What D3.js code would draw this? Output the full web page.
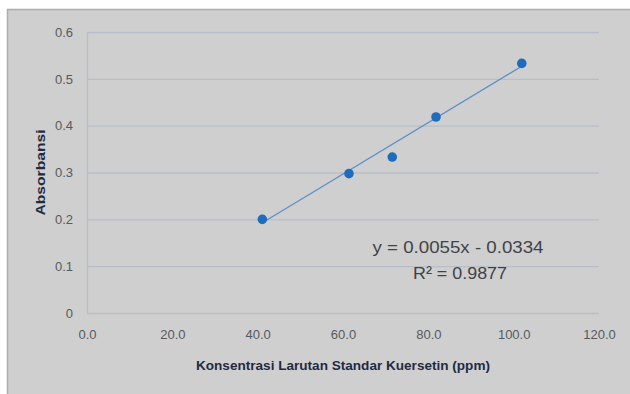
<!DOCTYPE html>
<html><head><meta charset="utf-8">
<script src="https://cdn.jsdelivr.net/npm/d3@7"></script>
<style>
html,body{margin:0;padding:0;background:#fff;}
svg{display:block;}
</style></head>
<body>
<svg id="c" width="630" height="394"></svg>
<script>
// Data
const concentration = [41.1, 61.4, 71.55, 81.8, 101.9];
const absorbance = [0.200, 0.2975, 0.333, 0.4185, 0.533];
const xTicks = [0, 20, 40, 60, 80, 100, 120];
const xTickLabels = ["0.0", "20.0", "40.0", "60.0", "80.0", "100.0", "120.0"];
const yTicks = [0, 0.1, 0.2, 0.3, 0.4, 0.5, 0.6];
const yTickLabels = ["0", "0.1", "0.2", "0.3", "0.4", "0.5", "0.6"];
const trendSlope = [0.0055];
const trendIntercept = [-0.0334];
const equationLines = ["y = 0.0055x - 0.0334", "R² = 0.9877"];
const xTitle = "Konsentrasi Larutan Standar Kuersetin (ppm)";
const yTitle = "Absorbansi";

const svg = d3.select("#c");
const W = 630, H = 394;
const m = {left: 87, right: 31, top: 32, bottom: 81};
const pw = W - m.left - m.right, ph = H - m.top - m.bottom;

// chart frame
svg.append("rect").attr("x", 7.5).attr("y", 9.5).attr("width", W).attr("height", H)
  .attr("fill", "#cfcfcf").attr("stroke", "#a9adb5").attr("stroke-width", 1.5);

const x = d3.scaleLinear().domain([0, 120]).range([m.left, m.left + pw]);
const y = d3.scaleLinear().domain([0, 0.6]).range([m.top + ph, m.top]);

const g = svg.append("g");

// Y axis with gridlines
const yAxis = d3.axisLeft(y).tickValues(yTicks)
  .tickFormat((d, i) => yTickLabels[i]).tickSizeInner(-pw).tickSizeOuter(0).tickPadding(14);
const ya = g.append("g").attr("transform", `translate(${m.left},0)`).call(yAxis);
ya.selectAll(".tick line").attr("stroke", "#b8bec8").attr("stroke-width", 1.3);
ya.select(".domain").attr("stroke", "#b8bec8").attr("stroke-width", 1.3);
ya.selectAll(".tick text").attr("fill", "#555a60").attr("font-size", 13)
  .attr("font-family", "'Liberation Sans Narrow','Liberation Sans',Arial,sans-serif");

// X axis labels
const xAxis = d3.axisBottom(x).tickValues(xTicks)
  .tickFormat((d, i) => xTickLabels[i]).tickSize(0).tickPadding(17);
const xa = g.append("g").attr("transform", `translate(0,${m.top + ph})`).call(xAxis);
xa.select(".domain").remove();
xa.selectAll(".tick text").attr("fill", "#555a60").attr("font-size", 13)
  .attr("font-family", "'Liberation Sans Narrow','Liberation Sans',Arial,sans-serif");

// trendline
const x0 = d3.min(concentration), x1 = d3.max(concentration);
g.append("line")
  .attr("x1", x(x0)).attr("y1", y(trendSlope[0] * x0 + trendIntercept[0]))
  .attr("x2", x(x1)).attr("y2", y(trendSlope[0] * x1 + trendIntercept[0]))
  .attr("stroke", "#5a8ec8").attr("stroke-width", 1.2);

// points
g.selectAll("circle.pt").data(concentration).join("circle").attr("class", "pt")
  .attr("cx", d => x(d)).attr("cy", (d, i) => y(absorbance[i])).attr("r", 4.8)
  .attr("fill", "#1f6cbd");

// equation
const eq = g.append("g");
eq.append("text").attr("x", 458).attr("y", 253).attr("text-anchor", "middle")
  .attr("font-family", "'Liberation Sans Narrow','Liberation Sans',Arial,sans-serif")
  .attr("font-size", 17).attr("fill", "#404346")
  .attr("textLength", 171).attr("lengthAdjust", "spacingAndGlyphs").text(equationLines[0]);
eq.append("text").attr("x", 460).attr("y", 279).attr("text-anchor", "middle")
  .attr("font-family", "'Liberation Sans Narrow','Liberation Sans',Arial,sans-serif")
  .attr("font-size", 17).attr("fill", "#404346")
  .attr("textLength", 94).attr("lengthAdjust", "spacingAndGlyphs").text(equationLines[1]);

// axis titles
g.append("text").attr("x", x(60)).attr("y", 370).attr("text-anchor", "middle")
  .attr("font-family", "'Liberation Sans Narrow','Liberation Sans',Arial,sans-serif")
  .attr("font-weight", "bold").attr("font-size", 13).attr("fill", "#1f2a44")
  .attr("textLength", 294).attr("lengthAdjust", "spacingAndGlyphs").text(xTitle);
g.append("text").attr("transform", `translate(45,${m.top + ph / 2}) rotate(-90)`)
  .attr("text-anchor", "middle")
  .attr("font-family", "'Liberation Sans Narrow','Liberation Sans',Arial,sans-serif")
  .attr("font-weight", "bold").attr("font-size", 12).attr("fill", "#1f2a44")
  .attr("textLength", 86).attr("lengthAdjust", "spacingAndGlyphs").text(yTitle);
</script>
</body></html>
